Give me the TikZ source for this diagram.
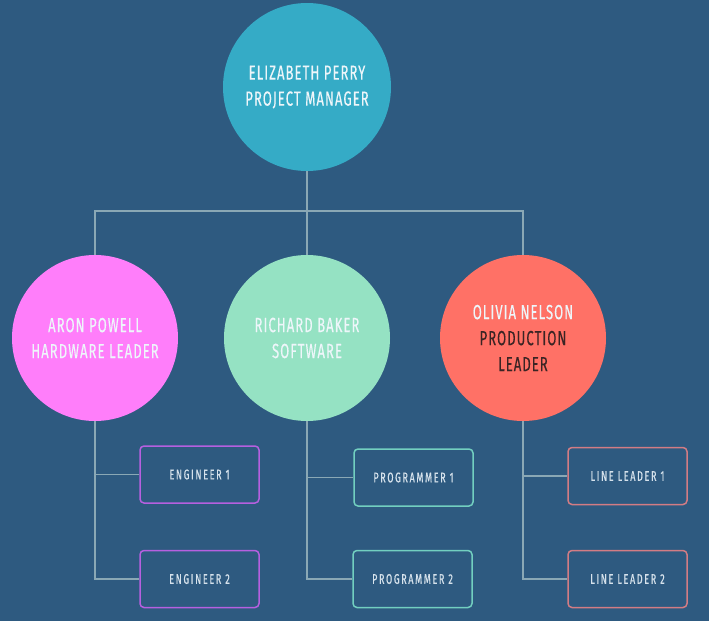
\documentclass[tikz,border=0pt]{standalone}
\usepackage{fontspec}
\setmainfont{Fira Sans}[FakeStretch=0.64, LetterSpace=5, FakeBold=0.3]
\newfontfamily\boxfont{Fira Sans}[FakeStretch=0.64, LetterSpace=12, FakeBold=0.6]
\definecolor{bg}{HTML}{2E5A80}
\definecolor{ctop}{HTML}{35ABC6}
\definecolor{cpink}{HTML}{FF7EFA}
\definecolor{cmint}{HTML}{95E2C3}
\definecolor{ccoral}{HTML}{FF7166}
\definecolor{lnk}{HTML}{8AA8B5}
\definecolor{bpurple}{HTML}{B660E0}
\definecolor{bteal}{HTML}{72CFC0}
\definecolor{bcoral}{HTML}{D37C84}
\definecolor{txtl}{HTML}{EEF6FA}
\definecolor{txtbox}{HTML}{D6E2EC}
\definecolor{txtdark}{HTML}{3A2424}
\tikzset{
  person/.style={circle, minimum size=168pt, inner sep=0pt, align=center,
    font=\fontsize{20.5}{26}\selectfont, text=txtl},
  rolebox/.style={draw, rounded corners=4pt, line width=1.5pt, minimum width=119pt,
    minimum height=57pt, inner sep=0pt, text=txtbox, font=\boxfont\fontsize{14}{16}\selectfont},
  link/.style={draw=lnk, line width=1.4pt}
}
\begin{document}
\begin{tikzpicture}[x=1pt,y=-1pt]
\useasboundingbox (0,0) rectangle (709,621);
\fill[bg] (0,0) rectangle (709,621);
\coordinate (j) at (307,211);
\node[person, fill=ctop] (pm) at (307,87) {ELIZABETH PERRY\\PROJECT MANAGER};
\node[person, fill=cpink, minimum size=166pt] (hw) at (95,338) {ARON POWELL\\HARDWARE LEADER};
\node[person, fill=cmint, minimum size=166pt] (sw) at (307,338) {RICHARD BAKER\\SOFTWARE};
\node[person, fill=ccoral, minimum size=166pt] (pl) at (523,338) {OLIVIA NELSON\\\textcolor{txtdark}{PRODUCTION}\\\textcolor{txtdark}{LEADER}};
\node[rolebox, draw=bpurple] (e1) at (199.5,474.5) {ENGINEER 1};
\node[rolebox, draw=bpurple] (e2) at (199.5,579) {ENGINEER 2};
\node[rolebox, draw=bteal] (p1) at (413.5,477.5) {PROGRAMMER 1};
\node[rolebox, draw=bteal] (p2) at (412.5,579) {PROGRAMMER 2};
\node[rolebox, draw=bcoral] (l1) at (627.5,476) {LINE LEADER 1};
\node[rolebox, draw=bcoral] (l2) at (627.5,579) {LINE LEADER 2};
\path[link] (pm.south) -- (j);
\path[link] (hw.north) -- (hw.north |- j) -- (pl.north |- j) -- (pl.north);
\path[link] (sw.north) -- (sw.north |- j);
\path[link] (hw.south) |- (e2.west);
\path[link] (hw.south |- e1.west) -- (e1.west);
\path[link] (sw.south) |- (p2.west);
\path[link] (sw.south |- p1.west) -- (p1.west);
\path[link] (pl.south) |- (l2.west);
\path[link] (pl.south |- l1.west) -- (l1.west);
\end{tikzpicture}
\end{document}
